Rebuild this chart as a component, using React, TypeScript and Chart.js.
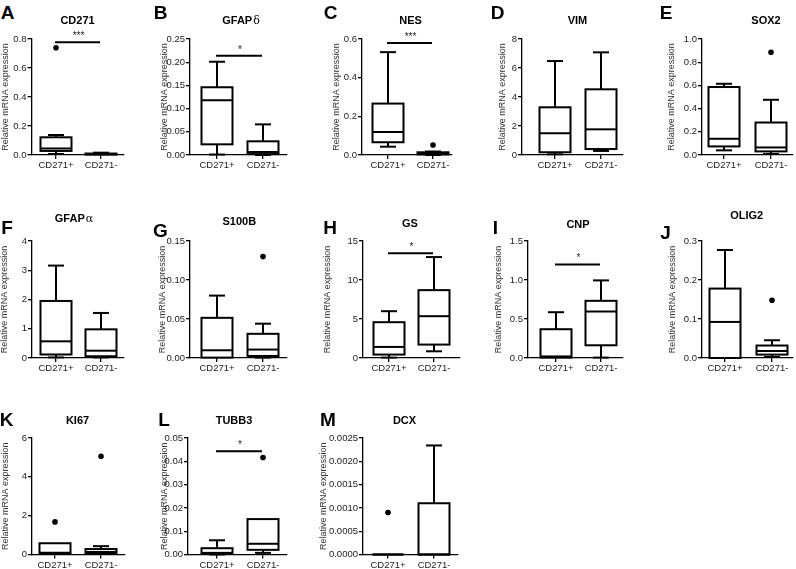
import React, { useEffect, useRef } from 'react';
import { Chart, registerables } from 'chart.js';

Chart.register(...registerables);

const FONT = "'Liberation Sans', Arial, Helvetica, sans-serif";

// ---------------- DATA ----------------
const categories = ['CD271+', 'CD271-'];
const panelLetters = ['A', 'B', 'C', 'D', 'E', 'F', 'G', 'H', 'I', 'J', 'K', 'L', 'M'];
const geneNames = ['CD271', 'GFAPδ', 'NES', 'VIM', 'SOX2', 'GFAPα', 'S100B', 'GS', 'CNP', 'OLIG2', 'KI67', 'TUBB3', 'DCX'];
const yAxisTitle = 'Relative mRNA expression';

// five-number summaries [whisker low, Q1, median, Q3, whisker high]
const cd271PosStats = [
  [0.007, 0.028, 0.045, 0.122, 0.138],
  [0.001, 0.023, 0.118, 0.146, 0.201],
  [0.043, 0.066, 0.119, 0.266, 0.532],
  [0.05, 0.19, 1.5, 3.29, 6.48],
  [0.04, 0.074, 0.14, 0.586, 0.614],
  [0.02, 0.12, 0.57, 1.95, 3.16],
  [0, 0.0005, 0.0099, 0.0515, 0.08],
  [0.05, 0.44, 1.42, 4.59, 6.0],
  [0, 0.005, 0.02, 0.369, 0.587],
  [0, 0, 0.0925, 0.178, 0.277],
  [0.02, 0.04, 0.09, 0.58, 0.58],
  [0, 0.0003, 0.0007, 0.0027, 0.0061],
  [0, 0, 0, 0, 0],
];
const cd271NegStats = [
  [0.0, 0.003, 0.006, 0.01, 0.016],
  [0.0, 0.002, 0.0065, 0.0295, 0.066],
  [0.0, 0.003, 0.008, 0.014, 0.018],
  [0.28, 0.41, 1.77, 4.53, 7.08],
  [0.009, 0.031, 0.065, 0.28, 0.476],
  [0.02, 0.06, 0.25, 0.98, 1.54],
  [0.0005, 0.0026, 0.0108, 0.031, 0.044],
  [0.86, 1.72, 5.36, 8.7, 12.94],
  [0.005, 0.163, 0.596, 0.733, 0.995],
  [0.0026, 0.0087, 0.018, 0.032, 0.0455],
  [0.01, 0.035, 0.13, 0.28, 0.43],
  [0.0007, 0.002, 0.0046, 0.0152, 0.0152],
  [0, 0, 0, 0.0011, 0.00234],
];
const cd271PosOutliers = [[0.74], [], [], [], [], [], [], [], [], [], [1.68], [], [0.0009]];
const cd271NegOutliers = [[], [], [0.052], [], [0.886], [], [0.13], [], [], [0.148], [5.06], [0.0416], []];

const yTicks = [
  [0, 0.2, 0.4, 0.6, 0.8],
  [0, 0.05, 0.1, 0.15, 0.2, 0.25],
  [0, 0.2, 0.4, 0.6],
  [0, 2, 4, 6, 8],
  [0, 0.2, 0.4, 0.6, 0.8, 1.0],
  [0, 1, 2, 3, 4],
  [0, 0.05, 0.1, 0.15],
  [0, 5, 10, 15],
  [0, 0.5, 1.0, 1.5],
  [0, 0.1, 0.2, 0.3],
  [0, 2, 4, 6],
  [0, 0.01, 0.02, 0.03, 0.04, 0.05],
  [0, 0.0005, 0.001, 0.0015, 0.002, 0.0025],
];
const yDecimals = [1, 2, 1, 0, 1, 0, 2, 0, 1, 1, 0, 2, 4];

// significance bars between the two groups
const sigValue = [0.777, 0.214, 0.579, null, null, null, null, 13.42, 1.2, null, null, 0.0443, null];
const sigLabel = ['***', '*', '***', '', '', '', '', '*', '*', '', '', '*', ''];

// ---------------- LAYOUT (pixels on page) ----------------
// [axisX, plotRight, center1, center2, plotTop, plotBottom, yTitleX, titleX, titleY, letterX, letterY]
const panelLayout = [
  [31.5, 124, 56, 101, 39, 155, 5.5, 77.5, 20, 7.5, 11.5],
  [190, 287, 217, 263, 39, 155, 164, 241, 19.5, 160.5, 11.5],
  [362, 452, 388, 433, 39, 155, 336.7, 410.5, 19.5, 330.5, 11.5],
  [522, 623, 555, 601, 39, 155, 502, 577.5, 19.5, 497.5, 11.5],
  [702, 793, 724, 771, 39, 155, 671, 766, 19.5, 666, 11.5],
  [32, 124, 56, 101, 241, 358, 4.7, 74, 218.3, 7, 226.5],
  [190, 287, 217, 263, 241, 358, 162.5, 239.3, 221, 160.5, 230],
  [363, 460, 389, 434, 241, 358, 327.7, 410, 222.5, 330, 226.5],
  [528, 623, 556, 601, 241, 358, 498.5, 578, 224, 495.5, 226.5],
  [702, 793, 725, 772, 241, 358, 672.5, 746.7, 214.5, 665.5, 231.5],
  [32, 125, 55, 101, 438, 554.5, 5.8, 77.5, 419.5, 6.5, 418.5],
  [188, 287, 217, 263, 438, 554.5, 164, 234, 419.5, 164, 418.5],
  [363, 458, 388, 434, 438, 554.5, 323.7, 404.5, 419.5, 328, 418.5],
];

const PAD_TOP = 14;
const PAD_RIGHT = 4;
const X_AXIS_H = 24;
const BOX_W = 31;
const CAP_HALF = 8;
const Y_TITLE_SIZE = 9;

const boxPlugin = {
  id: 'boxWhisker',
  afterDatasetsDraw(chart: any, _args: any, opts: any) {
    const { ctx } = chart;
    const x = chart.scales.x;
    const y = chart.scales.y;
    const meta = chart.getDatasetMeta(0);
    const line = (x1: number, y1: number, x2: number, y2: number) => {
      ctx.beginPath();
      ctx.moveTo(x1, y1);
      ctx.lineTo(x2, y2);
      ctx.stroke();
    };
    ctx.save();
    ctx.strokeStyle = '#000';
    ctx.lineWidth = 2;
    ctx.lineCap = 'butt';
    (opts.stats as number[][]).forEach((s, i) => {
      const bar = meta.data[i];
      const cx = x.getPixelForValue(i + 1);
      const hw = (bar && bar.width ? bar.width : BOX_W) / 2;
      const [lo, q1, med, q3, hi] = s.map((v) => y.getPixelForValue(v));
      ctx.strokeRect(cx - hw, q3, 2 * hw, q1 - q3);
      line(cx - hw, med, cx + hw, med);
      if (q3 - hi > 0.5) {
        line(cx, q3, cx, hi);
        line(cx - CAP_HALF, hi, cx + CAP_HALF, hi);
      }
      if (lo - q1 > 0.5) {
        line(cx, q1, cx, lo);
        line(cx - CAP_HALF, lo, cx + CAP_HALF, lo);
      }
    });
    if (opts.sigValue !== null && opts.sigValue !== undefined) {
      const py = y.getPixelForValue(opts.sigValue);
      const x1 = x.getPixelForValue(1);
      const x2 = x.getPixelForValue(2);
      line(x1 - 1, py, x2 - 1, py);
      ctx.fillStyle = '#222';
      ctx.font = `10px ${FONT}`;
      ctx.textAlign = 'center';
      ctx.textBaseline = 'alphabetic';
      ctx.fillText(opts.sigLabel, (x1 + x2) / 2, py - 3);
    }
    ctx.restore();
  },
};

function BoxPanel({ idx }: { idx: number }) {
  const ref = useRef<HTMLCanvasElement | null>(null);
  const [axisX, plotRight, c1, c2, plotTop, plotBottom, yTitleX] = panelLayout[idx];
  const left = Math.round(yTitleX - (Y_TITLE_SIZE * 1.2) / 2);
  const top = Math.round(plotTop - PAD_TOP);
  const width = Math.round(plotRight + PAD_RIGHT - left);
  const padTop = plotTop - top;
  const height = Math.round(plotBottom - top + X_AXIS_H);
  const xAxisH = height - (plotBottom - top);

  useEffect(() => {
    if (!ref.current) return;
    const unit = c2 - c1;
    const xMin = 1 - (c1 - axisX) / unit;
    const xMax = 1 + (plotRight - c1) / unit;
    const pos = cd271PosStats[idx];
    const neg = cd271NegStats[idx];
    const stats = [pos, neg];
    const outliers = [
      ...cd271PosOutliers[idx].map((v) => ({ x: 1, y: v })),
      ...cd271NegOutliers[idx].map((v) => ({ x: 2, y: v })),
    ];
    const dec = yDecimals[idx];
    const tickFont = { size: 9.5, family: FONT };
    const chart = new Chart(ref.current, {
      type: 'bar',
      data: {
        datasets: [
          {
            type: 'bar',
            data: stats.map((s, i) => ({ x: i + 1, y: [s[1], s[3]] })) as any,
            backgroundColor: '#ffffff',
            borderWidth: 0,
            barThickness: BOX_W,
          } as any,
          {
            type: 'scatter',
            data: outliers as any,
            backgroundColor: '#000',
            borderColor: '#000',
            borderWidth: 0,
            pointRadius: 2.8,
          } as any,
        ],
      },
      options: {
        responsive: false,
        animation: false,
        events: [],
        layout: { padding: { top: padTop, right: PAD_RIGHT, left: 0, bottom: 0 } },
        plugins: {
          legend: { display: false },
          tooltip: { enabled: false },
          boxWhisker: { stats, sigValue: sigValue[idx], sigLabel: sigLabel[idx] },
        } as any,
        scales: {
          x: {
            type: 'linear',
            bounds: 'data',
            offset: false,
            min: xMin,
            max: xMax,
            afterBuildTicks: (s: any) => {
              s.ticks = categories.map((_, i) => ({ value: i + 1 }));
            },
            afterFit: (s: any) => {
              s.height = xAxisH;
            },
            ticks: {
              callback: (v: any) => categories[Math.round(Number(v)) - 1] ?? '',
              font: tickFont,
              color: '#222',
              padding: 1,
              maxRotation: 0,
              autoSkip: false,
            },
            grid: { offset: false, drawOnChartArea: false, drawTicks: true, tickLength: 4, color: '#000', lineWidth: 1.3 },
            border: { display: true, color: '#000', width: 1.3 },
          } as any,
          y: {
            type: 'linear',
            bounds: 'data',
            offset: false,
            min: 0,
            max: yTicks[idx][yTicks[idx].length - 1],
            afterBuildTicks: (s: any) => {
              s.ticks = yTicks[idx].map((v) => ({ value: v }));
            },
            afterFit: (s: any) => {
              s.width = axisX - left;
            },
            ticks: {
              callback: (v: any) => Number(v).toFixed(dec),
              font: tickFont,
              color: '#222',
              padding: 1,
              autoSkip: false,
            },
            grid: { drawOnChartArea: false, drawTicks: true, tickLength: 4, color: '#000', lineWidth: 1.3 },
            border: { display: true, color: '#000', width: 1.3 },
            title: {
              display: true,
              text: yAxisTitle,
              font: { size: Y_TITLE_SIZE, family: FONT },
              color: '#333',
              padding: 0,
            },
          } as any,
        },
      },
      plugins: [boxPlugin as any],
    });
    return () => chart.destroy();
  }, [idx]);

  return (
    <canvas
      ref={ref}
      width={width}
      height={height}
      style={{ position: 'absolute', left, top, width, height }}
    />
  );
}

function GeneTitle({ name }: { name: string }) {
  const parts = name.split(/([α-ω])/).filter((p) => p.length > 0);
  return (
    <>
      {parts.map((p, i) =>
        /[α-ω]/.test(p) ? (
          <span key={i} style={{ fontFamily: "'DejaVu Serif', serif", fontWeight: 'normal', marginLeft: 1 }}>
            {p}
          </span>
        ) : (
          <span key={i}>{p}</span>
        )
      )}
    </>
  );
}

export default function App() {
  return (
    <div
      style={{
        position: 'absolute',
        left: 0,
        top: 0,
        width: 796,
        height: 569,
        background: '#fff',
        overflow: 'hidden',
        fontFamily: FONT,
      }}
    >
      {panelLayout.map((L, i) => (
        <React.Fragment key={i}>
          <BoxPanel idx={i} />
          <div
            style={{
              position: 'absolute',
              left: L[9],
              top: L[10],
              transform: 'translate(-50%, -50%)',
              fontSize: 19,
              fontWeight: 'bold',
              lineHeight: 1,
              color: '#000',
              whiteSpace: 'nowrap',
            }}
          >
            {panelLetters[i]}
          </div>
          <div
            style={{
              position: 'absolute',
              left: L[7],
              top: L[8],
              transform: 'translate(-50%, -50%)',
              fontSize: 11,
              fontWeight: 'bold',
              lineHeight: 1,
              color: '#000',
              whiteSpace: 'nowrap',
            }}
          >
            <GeneTitle name={geneNames[i]} />
          </div>
        </React.Fragment>
      ))}
    </div>
  );
}
